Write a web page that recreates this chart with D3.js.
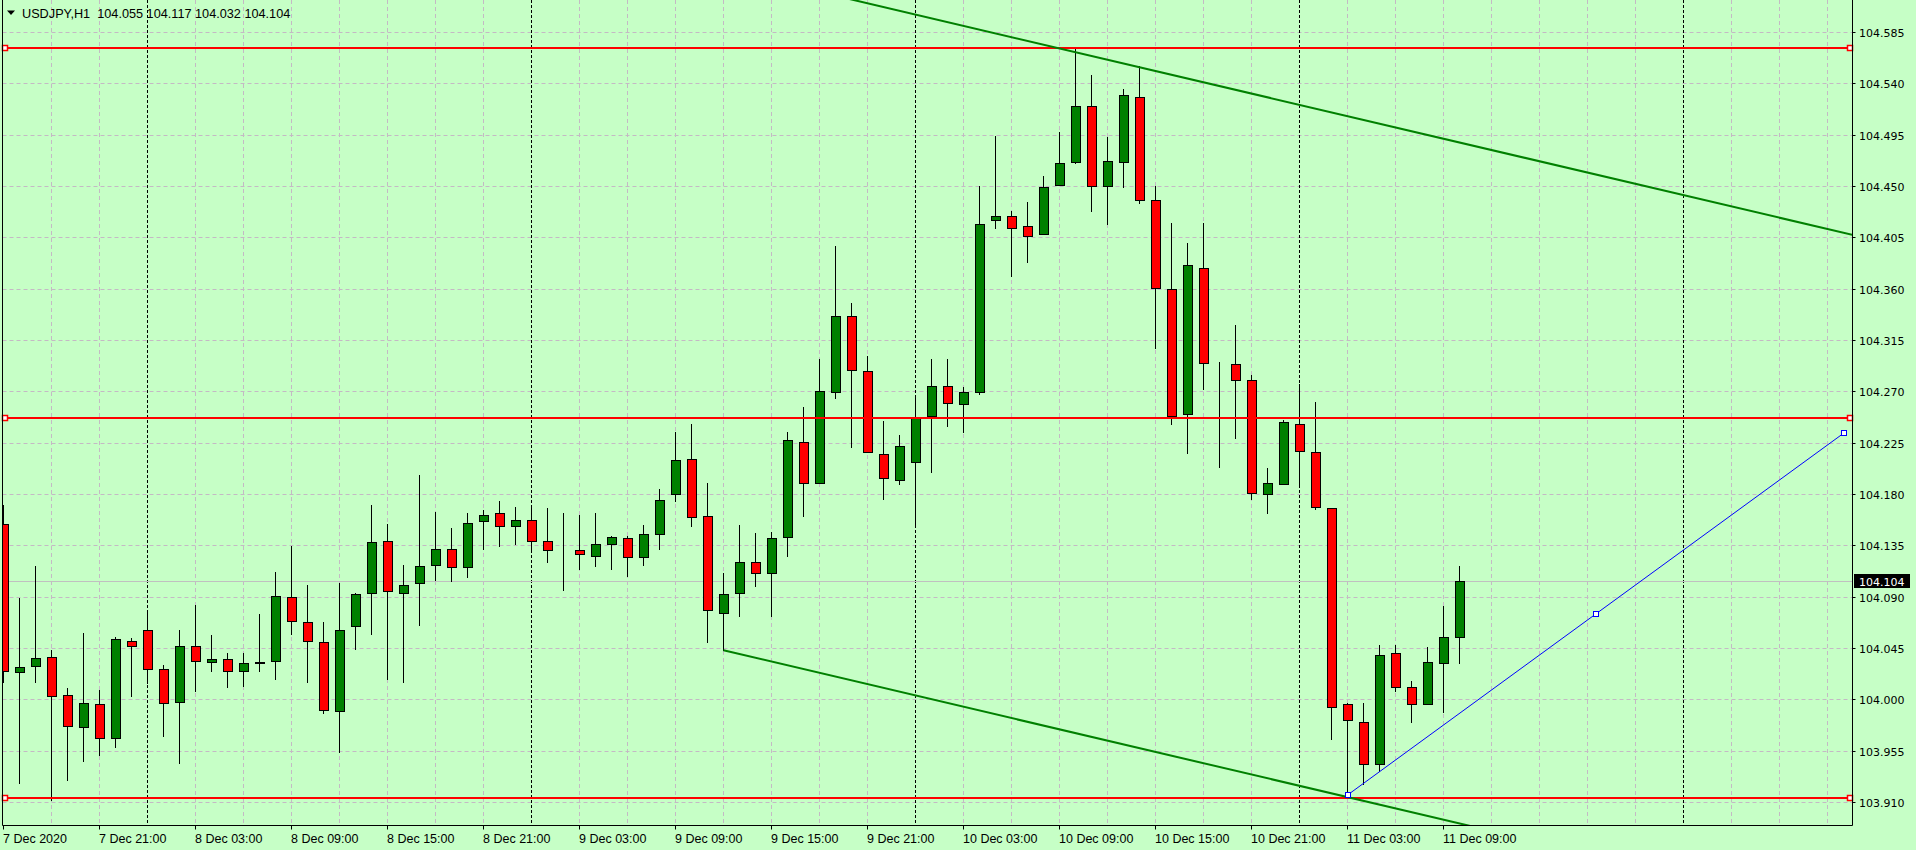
<!DOCTYPE html>
<meta charset="utf-8">

<head>
  <script src="https://cdnjs.cloudflare.com/ajax/libs/d3/7.8.5/d3.min.js"></script>
  <style>
    body {
      margin: 0;
      background: #c6ffc6;
    }

    svg {
      display: block;
    }
  </style>
  <title>USDJPY,H1</title>
</head>

<body>
  <div id="my_dataviz"></div>

  <script>

    // ---- data: USDJPY H1 bars, 7 Dec 2020 15:00 .. 11 Dec 2020 10:00 ----
    var opens = [
      104.154, 104.024, 104.029, 104.037, 104.004, 103.976, 103.996, 103.966, 104.051, 104.061,
      104.027, 103.998, 104.047, 104.033, 104.035, 104.025, 104.032, 104.034, 104.090, 104.068,
      104.050, 103.990, 104.064, 104.093, 104.139, 104.093, 104.102, 104.118, 104.132, 104.116,
      104.156, 104.163, 104.152, 104.157, 104.139, 104.131, 104.131, 104.126, 104.136, 104.141,
      104.125, 104.145, 104.180, 104.211, 104.161, 104.076, 104.093, 104.120, 104.111, 104.142,
      104.226, 104.190, 104.269, 104.336, 104.288, 104.215, 104.192, 104.208, 104.248, 104.275,
      104.259, 104.269, 104.420, 104.424, 104.415, 104.408, 104.451, 104.471, 104.520, 104.450,
      104.471, 104.528, 104.438, 104.360, 104.250, 104.378, 104.294, 104.294, 104.280, 104.180,
      104.189, 104.241, 104.217, 104.168, 103.996, 103.980, 103.943, 104.041, 104.011, 103.996,
      104.032, 104.055];
    var highs = [
      104.170, 104.089, 104.117, 104.043, 104.010, 104.058, 104.008, 104.055, 104.054, 104.076,
      104.030, 104.061, 104.083, 104.056, 104.041, 104.041, 104.075, 104.112, 104.134, 104.100,
      104.068, 104.102, 104.093, 104.170, 104.154, 104.118, 104.197, 104.164, 104.150, 104.163,
      104.166, 104.174, 104.169, 104.170, 104.168, 104.163, 104.162, 104.163, 104.143, 104.143,
      104.153, 104.184, 104.234, 104.241, 104.190, 104.111, 104.153, 104.146, 104.147, 104.234,
      104.256, 104.298, 104.397, 104.347, 104.301, 104.244, 104.232, 104.264, 104.298, 104.298,
      104.274, 104.450, 104.494, 104.428, 104.436, 104.459, 104.497, 104.570, 104.547, 104.493,
      104.535, 104.555, 104.450, 104.418, 104.400, 104.418, 104.296, 104.328, 104.284, 104.203,
      104.245, 104.276, 104.261, 104.168, 103.997, 103.997, 104.048, 104.048, 104.016, 104.046,
      104.082, 104.117];
    var lows = [
      104.015, 103.927, 104.015, 103.912, 103.929, 103.946, 103.951, 103.958, 104.003, 104.014,
      103.968, 103.944, 104.007, 104.025, 104.011, 104.012, 104.025, 104.018, 104.057, 104.015,
      103.988, 103.954, 104.044, 104.057, 104.018, 104.015, 104.065, 104.105, 104.104, 104.107,
      104.132, 104.134, 104.136, 104.130, 104.120, 104.096, 104.114, 104.117, 104.114, 104.108,
      104.118, 104.132, 104.174, 104.152, 104.050, 104.043, 104.073, 104.099, 104.073, 104.126,
      104.161, 104.190, 104.264, 104.221, 104.217, 104.176, 104.189, 104.152, 104.199, 104.240,
      104.234, 104.268, 104.413, 104.371, 104.383, 104.408, 104.451, 104.470, 104.428, 104.417,
      104.449, 104.435, 104.308, 104.241, 104.216, 104.272, 104.204, 104.229, 104.176, 104.163,
      104.189, 104.189, 104.167, 103.965, 103.916, 103.926, 103.937, 104.007, 103.980, 103.996,
      103.989, 104.032];
    var closes = [
      104.025, 104.028, 104.036, 104.003, 103.977, 103.997, 103.966, 104.053, 104.047, 104.027,
      103.997, 104.047, 104.034, 104.035, 104.025, 104.032, 104.033, 104.091, 104.069, 104.051,
      103.991, 104.061, 104.092, 104.138, 104.095, 104.100, 104.117, 104.132, 104.116, 104.155,
      104.162, 104.152, 104.157, 104.139, 104.131, 104.131, 104.127, 104.136, 104.142, 104.125,
      104.145, 104.175, 104.210, 104.160, 104.078, 104.092, 104.120, 104.111, 104.141, 104.227,
      104.190, 104.270, 104.336, 104.289, 104.217, 104.194, 104.222, 104.247, 104.275, 104.260,
      104.269, 104.417, 104.424, 104.413, 104.406, 104.449, 104.470, 104.520, 104.450, 104.472,
      104.530, 104.438, 104.361, 104.248, 104.381, 104.295, 104.294, 104.280, 104.181, 104.190,
      104.243, 104.218, 104.169, 103.993, 103.982, 103.943, 104.039, 104.011, 103.996, 104.033,
      104.055, 104.104];

    // time axis labels (bar index of each label)
    var xTickBars = [0, 6, 12, 18, 24, 30, 36, 42, 48, 54, 60, 66, 72, 78, 84, 90];
    var xTickLabels = ["7 Dec 2020", "7 Dec 21:00", "8 Dec 03:00", "8 Dec 09:00", "8 Dec 15:00",
      "8 Dec 21:00", "9 Dec 03:00", "9 Dec 09:00", "9 Dec 15:00", "9 Dec 21:00", "10 Dec 03:00",
      "10 Dec 09:00", "10 Dec 15:00", "10 Dec 21:00", "11 Dec 03:00", "11 Dec 09:00"];
    var daySeparators = [9, 33, 57, 81, 105];

    // price axis
    var priceTicks = ["104.585", "104.540", "104.495", "104.450", "104.405", "104.360", "104.315",
      "104.270", "104.225", "104.180", "104.135", "104.090", "104.045", "104.000", "103.955", "103.910"];
    var bidPrice = 104.104;

    // drawn objects
    var hLines = [104.5712, 104.2469, 103.9132];
    var channelTop = [[60, 104.5904], [115, 104.4090]];
    var channelBottom = [[45, 104.0430], [91, 103.8912]];
    var blueLine = [[84, 103.9161], [115, 104.2332]];

    var header = "USDJPY,H1  104.055 104.117 104.032 104.104";

    // ---- layout ----
    var W = 1916, H = 850;
    var plotL = 2.5, plotR = 1852.5, plotT = 0, plotB = 825.5;

    var svg = d3.select("#my_dataviz")
      .append("svg")
      .attr("width", W)
      .attr("height", H);

    svg.append("rect")
      .attr("width", W).attr("height", H)
      .attr("fill", "#c6ffc6");

    var x = d3.scaleLinear().domain([0, 115]).range([3.5, 1843.5]);
    var y = d3.scaleLinear().domain([103.910, 104.585]).range([802, 32]);
    var sy = function (v) { return Math.round(y(v)) + 0.5; };

    svg.append("clipPath").attr("id", "plot")
      .append("rect")
      .attr("x", plotL + 0.5).attr("y", plotT)
      .attr("width", plotR - plotL - 1).attr("height", plotB - plotT - 0.5);

    var plot = svg.append("g").attr("clip-path", "url(#plot)");

    // grid
    var gridColor = "#c4b9c4";
    plot.selectAll("hgrid")
      .data(priceTicks)
      .enter()
      .append("line")
      .attr("x1", plotL).attr("x2", plotR)
      .attr("y1", function (d) { return sy(+d); })
      .attr("y2", function (d) { return sy(+d); })
      .attr("stroke", gridColor)
      .attr("stroke-dasharray", "4,3");

    var vgrid = d3.range(3, 116, 3).filter(function (b) { return daySeparators.indexOf(b) < 0; });
    plot.selectAll("vgrid")
      .data(vgrid)
      .enter()
      .append("line")
      .attr("x1", function (d) { return x(d); })
      .attr("x2", function (d) { return x(d); })
      .attr("y1", plotT).attr("y2", plotB)
      .attr("stroke", gridColor)
      .attr("stroke-dasharray", "4,3");

    plot.selectAll("sep")
      .data(daySeparators)
      .enter()
      .append("line")
      .attr("x1", function (d) { return x(d); })
      .attr("x2", function (d) { return x(d); })
      .attr("y1", plotT).attr("y2", plotB)
      .attr("stroke", "black")
      .attr("stroke-dasharray", "3,2");

    // bid line
    plot.append("line")
      .attr("x1", plotL).attr("x2", plotR)
      .attr("y1", sy(bidPrice)).attr("y2", sy(bidPrice))
      .attr("stroke", "#c0c0c0");

    // candles
    var bars = d3.range(opens.length);

    plot.selectAll("wick")
      .data(bars)
      .enter()
      .append("line")
      .attr("x1", function (i) { return x(i); })
      .attr("x2", function (i) { return x(i); })
      .attr("y1", function (i) { return Math.round(y(highs[i])); })
      .attr("y2", function (i) { return Math.round(y(lows[i])) + 1; })
      .attr("stroke", "black");

    plot.selectAll("body")
      .data(bars)
      .enter()
      .append("rect")
      .attr("x", function (i) { return x(i) - 4; })
      .attr("width", 9)
      .attr("y", function (i) { return sy(Math.max(opens[i], closes[i])); })
      .attr("height", function (i) { return sy(Math.min(opens[i], closes[i])) - sy(Math.max(opens[i], closes[i])); })
      .attr("fill", function (i) {
        if (closes[i] > opens[i]) return "#008000";
        if (closes[i] < opens[i]) return "#ff0000";
        return "black";
      })
      .attr("stroke", "black");

    // horizontal lines
    plot.selectAll("hline")
      .data(hLines)
      .enter()
      .append("line")
      .attr("x1", plotL).attr("x2", plotR)
      .attr("y1", function (d) { return Math.round(y(d)); })
      .attr("y2", function (d) { return Math.round(y(d)); })
      .attr("stroke", "#ff0000")
      .attr("stroke-width", 2);

    // trend lines (rays extended to the right edge)
    function ray(p, extendLeft) {
      var slope = (p[1][1] - p[0][1]) / (p[1][0] - p[0][0]);
      var b0 = extendLeft ? 0 : p[0][0], b1 = 118;
      return [[x(b0), y(p[0][1] + slope * (b0 - p[0][0]))], [x(b1), y(p[0][1] + slope * (b1 - p[0][0]))]];
    }

    plot.selectAll("trend")
      .data([ray(channelTop, true), ray(channelBottom, false)])
      .enter()
      .append("line")
      .attr("x1", function (d) { return d[0][0]; })
      .attr("y1", function (d) { return d[0][1]; })
      .attr("x2", function (d) { return d[1][0]; })
      .attr("y2", function (d) { return d[1][1]; })
      .attr("stroke", "#008000")
      .attr("stroke-width", 2);

    plot.append("line")
      .attr("x1", x(blueLine[0][0])).attr("y1", y(blueLine[0][1]))
      .attr("x2", x(blueLine[1][0])).attr("y2", y(blueLine[1][1]))
      .attr("stroke", "#0000ff")
      .attr("stroke-width", 1);

    // selection markers
    var blueMarks = [blueLine[0], [(blueLine[0][0] + blueLine[1][0]) / 2, (blueLine[0][1] + blueLine[1][1]) / 2], blueLine[1]];
    svg.selectAll("bmark")
      .data(blueMarks)
      .enter()
      .append("rect")
      .attr("x", function (d) { return Math.round(x(d[0])) - 2.5; })
      .attr("y", function (d) { return Math.round(y(d[1])) - 2.5; })
      .attr("width", 5).attr("height", 5)
      .attr("fill", "white")
      .attr("stroke", "#0000ff");

    var redMarks = [];
    hLines.forEach(function (p) { redMarks.push([5, p]); redMarks.push([1849.5, p]); });
    svg.selectAll("rmark")
      .data(redMarks)
      .enter()
      .append("rect")
      .attr("x", function (d) { return Math.round(d[0]) - 2.5; })
      .attr("y", function (d) { return Math.round(y(d[1])) - 2.5; })
      .attr("width", 5).attr("height", 5)
      .attr("fill", "white")
      .attr("stroke", "#ff0000")
      .attr("stroke-width", 1.5);

    // frame
    svg.append("path")
      .attr("d", "M" + plotL + "," + plotT + "V" + plotB + "H" + plotR + "V" + plotT)
      .attr("fill", "none")
      .attr("stroke", "black");

    // time axis
    svg.selectAll("xtick")
      .data(xTickBars)
      .enter()
      .append("line")
      .attr("x1", function (d) { return x(d); })
      .attr("x2", function (d) { return x(d); })
      .attr("y1", plotB).attr("y2", plotB + 4)
      .attr("stroke", "black");

    svg.selectAll("xlabel")
      .data(xTickBars)
      .enter()
      .append("text")
      .attr("x", function (d) { return Math.max(x(d) - 0.5, 1); })
      .attr("y", 843)
      .attr("font-family", "Liberation Sans, Arial, sans-serif")
      .attr("font-size", "12.5px")
      .attr("fill", "black")
      .text(function (d, i) { return xTickLabels[i]; });

    // price axis
    svg.selectAll("ytick")
      .data(priceTicks)
      .enter()
      .append("line")
      .attr("x1", plotR).attr("x2", plotR + 3)
      .attr("y1", function (d) { return sy(+d); })
      .attr("y2", function (d) { return sy(+d); })
      .attr("stroke", "black");

    svg.selectAll("ylabel")
      .data(priceTicks)
      .enter()
      .append("text")
      .attr("x", 1859)
      .attr("y", function (d) { return sy(+d) + 4; })
      .attr("font-family", "DejaVu Sans, sans-serif")
      .attr("font-size", "11px")
      .attr("fill", "black")
      .text(function (d) { return d; });

    svg.append("rect")
      .attr("x", 1854).attr("y", Math.round(y(bidPrice)) - 7)
      .attr("width", 56).attr("height", 14)
      .attr("fill", "black");
    svg.append("text")
      .attr("x", 1859)
      .attr("y", sy(bidPrice) + 4)
      .attr("font-family", "DejaVu Sans, sans-serif")
      .attr("font-size", "11px")
      .attr("fill", "white")
      .text(bidPrice.toFixed(3));

    // header
    svg.append("path")
      .attr("d", "M7,10.5 L15,10.5 L11,15 Z")
      .attr("fill", "black");
    svg.append("text")
      .attr("x", 22)
      .attr("y", 17.5)
      .attr("font-family", "Liberation Sans, Arial, sans-serif")
      .attr("font-size", "12.7px")
      .attr("fill", "black")
      .style("white-space", "pre")
      .text(header);

  </script>
</body>
